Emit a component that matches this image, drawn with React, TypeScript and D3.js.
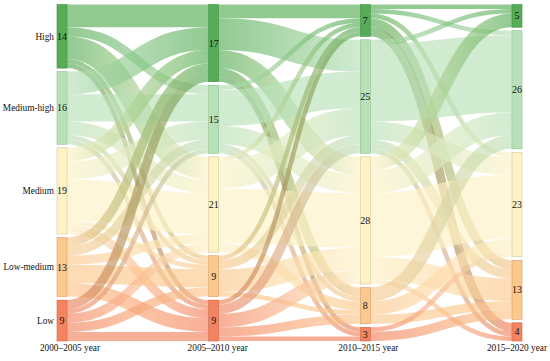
import React, { useEffect, useRef } from 'react';
import * as d3 from 'd3';

// categories top -> bottom, and the four periods
const categories = ['High', 'Medium-high', 'Medium', 'Low-medium', 'Low'];
const periods = ['2000–2005 year', '2005–2010 year', '2010–2015 year', '2015–2020 year'];
const colors = ['#57ad57', '#b9e1b9', '#fef2c6', '#fbc88d', '#f4845f'];
const strokes = ['#3f8f3f', '#8fbf8f', '#d8c999', '#d9a066', '#cc6645'];

// node values per period
const values2000 = [14, 16, 19, 13, 9];
const values2005 = [17, 15, 21, 9, 9];
const values2010 = [7, 25, 28, 8, 3];
const values2015 = [5, 26, 23, 13, 4];

// flows: rows = source category, cols = target category
const flows2000to2005 = [
  [5, 2, 5, 1, 1],
  [5, 6, 3, 1, 1],
  [3, 4, 9, 1, 2],
  [2, 2, 2, 4, 3],
  [2, 1, 2, 2, 2],
];
const flows2005to2010 = [
  [3, 7, 4, 2, 1],
  [1, 8, 4, 1, 1],
  [1, 6, 12, 2, 0],
  [1, 2, 5, 1, 0],
  [1, 2, 3, 2, 1],
];
const flows2010to2015 = [
  [1, 1, 1, 2, 2],
  [1, 17, 4, 2, 1],
  [3, 5, 14, 5, 1],
  [0, 3, 3, 2, 0],
  [0, 0, 1, 2, 0],
];

const W = 550;
const H = 361;
const FONT = "'Liberation Serif', 'Times New Roman', 'DejaVu Serif', serif";

const App: React.FC = () => {
  const svgRef = useRef<SVGSVGElement>(null);

  useEffect(() => {
    if (!svgRef.current) return;
    const svg = d3.select(svgRef.current);
    svg.selectAll('*').remove();

    const columns = [values2000, values2005, values2010, values2015];
    const flows = [flows2000to2005, flows2005to2010, flows2010to2015];

    const nodeW = 10;
    const top = 4.5;
    const bottom = 341;
    const pad = 3.5;
    const total = d3.sum(values2000);

    const x = d3.scalePoint<number>().domain([0, 1, 2, 3]).range([57, 512]);
    const k = d3.scaleLinear().domain([0, total]).range([0, bottom - top - pad * (categories.length - 1)]);

    // stack nodes in each column
    const nodes = columns.map((vals, c) => {
      let y = top;
      return vals.map((v, i) => {
        const n = { c, i, v, x0: x(c)!, x1: x(c)! + nodeW, y0: y, y1: y + k(v) };
        y = n.y1 + pad;
        return n;
      });
    });

    // links, ordered by target at the source and by source at the target
    const links: any[] = [];
    flows.forEach((m, c) => {
      const outOff = nodes[c].map((n) => n.y0);
      const inOff = nodes[c + 1].map((n) => n.y0);
      const tmp: any[] = [];
      m.forEach((row, i) => row.forEach((v, j) => {
        if (v > 0) tmp.push({ c, i, j, v, w: k(v) });
      }));
      tmp.slice().sort((a, b) => a.i - b.i || a.j - b.j).forEach((l) => {
        l.sy = outOff[l.i] + l.w / 2;
        outOff[l.i] += l.w;
      });
      tmp.slice().sort((a, b) => a.j - b.j || a.i - b.i).forEach((l) => {
        l.ty = inOff[l.j] + l.w / 2;
        inOff[l.j] += l.w;
      });
      tmp.forEach((l) => {
        l.sx = nodes[c][l.i].x1;
        l.tx = nodes[c + 1][l.j].x0;
        links.push(l);
      });
    });

    const defs = svg.append('defs');
    links.forEach((l, idx) => {
      const g = defs.append('linearGradient')
        .attr('id', `lg${idx}`)
        .attr('gradientUnits', 'userSpaceOnUse')
        .attr('x1', l.sx).attr('x2', l.tx)
        .attr('y1', 0).attr('y2', 0);
      g.append('stop').attr('offset', '0%').attr('stop-color', colors[l.i]);
      g.append('stop').attr('offset', '100%').attr('stop-color', colors[l.j]);
    });

    const linkGen = d3.linkHorizontal<any, [number, number]>()
      .source((d: any) => [d.sx, d.sy])
      .target((d: any) => [d.tx, d.ty]);

    svg.append('g')
      .selectAll('path')
      .data(links)
      .join('path')
      .attr('d', (d: any) => linkGen(d))
      .attr('fill', 'none')
      .attr('stroke', (d: any, idx: number) => `url(#lg${idx})`)
      .attr('stroke-width', (d: any) => Math.max(1, d.w))
      .attr('stroke-opacity', 0.65);

    const gNodes = svg.append('g');
    nodes.flat().forEach((n) => {
      gNodes.append('rect')
        .attr('x', n.x0).attr('y', n.y0)
        .attr('width', nodeW).attr('height', n.y1 - n.y0)
        .attr('fill', colors[n.i])
        .attr('stroke', strokes[n.i])
        .attr('stroke-width', 0.6);
      gNodes.append('text')
        .attr('x', n.x0 + nodeW / 2)
        .attr('y', (n.y0 + n.y1) / 2)
        .attr('dy', '0.35em')
        .attr('text-anchor', 'middle')
        .style('font-family', FONT)
        .style('font-size', '10px')
        .attr('fill', '#111')
        .text(n.v);
    });

    // category labels on the left
    nodes[0].forEach((n) => {
      svg.append('text')
        .attr('x', n.x0 - 3)
        .attr('y', (n.y0 + n.y1) / 2)
        .attr('dy', '0.35em')
        .attr('text-anchor', 'end')
        .style('font-family', FONT)
        .style('font-size', '9.3px')
        .attr('fill', '#111')
        .text(categories[n.i]);
    });

    // period labels at the bottom
    const labelShift = [8, 4, 3, 0];
    periods.forEach((p, c) => {
      svg.append('text')
        .attr('x', x(c)! + nodeW / 2 + labelShift[c])
        .attr('y', 351)
        .attr('text-anchor', 'middle')
        .style('font-family', FONT)
        .style('font-size', '9.3px')
        .attr('fill', '#111')
        .text(p);
    });
  }, []);

  return (
    <svg ref={svgRef} width={W} height={H}
      style={{ position: 'absolute', left: 0, top: 0, background: '#fff', fontFamily: FONT }} />
  );
};

export default App;
